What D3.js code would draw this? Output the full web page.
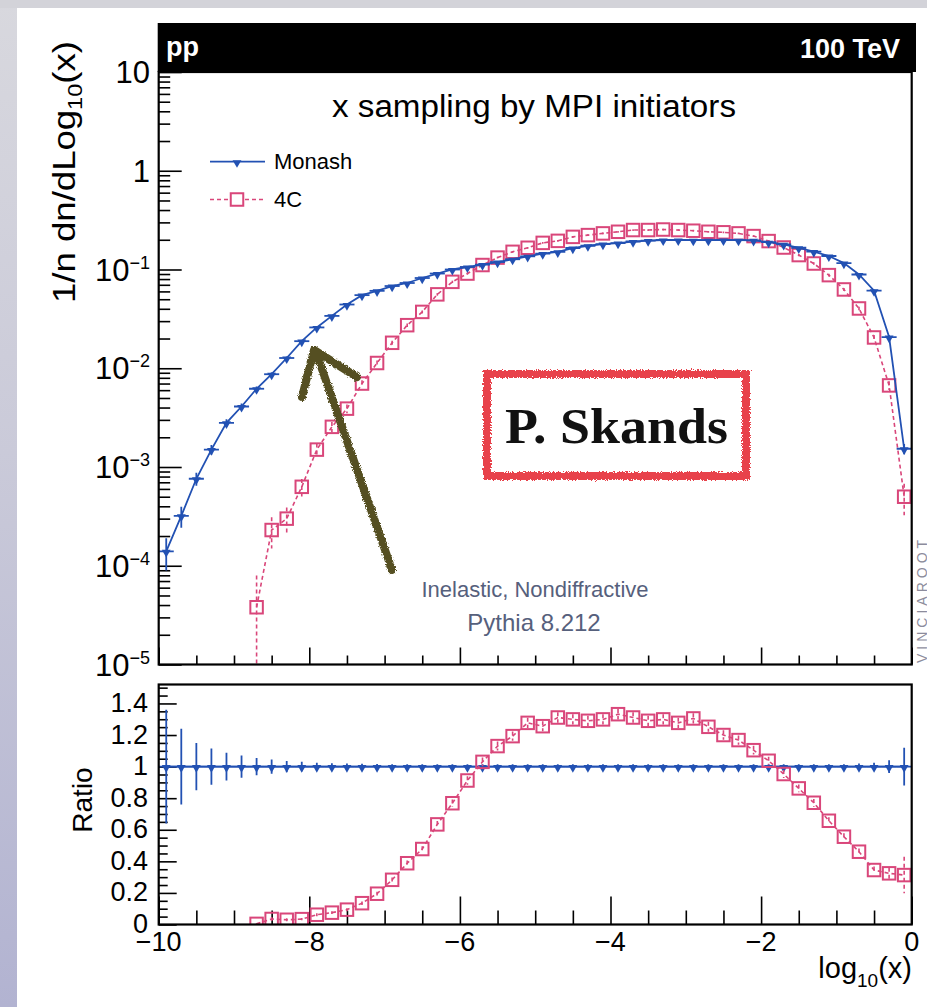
<!DOCTYPE html>
<html>
<head>
<meta charset="utf-8">
<script src="https://cdn.jsdelivr.net/npm/d3@7"></script>
<style>
  html, body { margin: 0; padding: 0; background: #fff; }
  svg { display: block; }
  text { font-family: "Liberation Sans", Arial, Helvetica, sans-serif; }
  text.serif { font-family: "Liberation Serif", "DejaVu Serif", serif; }
</style>
</head>
<body>
<svg id="chart" width="927" height="1007"></svg>
<script>
// ---- data: bin centres in log10(x), bin width 0.2 ----
const logX = [-9.9, -9.7, -9.5, -9.3, -9.1, -8.9, -8.7, -8.5, -8.3, -8.1,
              -7.9, -7.7, -7.5, -7.3, -7.1, -6.9, -6.7, -6.5, -6.3, -6.1,
              -5.9, -5.7, -5.5, -5.3, -5.1, -4.9, -4.7, -4.5, -4.3, -4.1,
              -3.9, -3.7, -3.5, -3.3, -3.1, -2.9, -2.7, -2.5, -2.3, -2.1,
              -1.9, -1.7, -1.5, -1.3, -1.1, -0.9, -0.7, -0.5, -0.3, -0.1];

// Monash tune: 1/n dn/dlog10(x)
const monash = [1.4e-4, 3.2e-4, 7.6e-4, 1.5e-3, 2.8e-3, 4.1e-3, 6.2e-3, 8.7e-3, 1.27e-2, 1.88e-2,
                2.59e-2, 3.39e-2, 4.42e-2, 5.5e-2, 6.08e-2, 6.8e-2, 7.3e-2, 8.2e-2, 9.1e-2, 0.100,
                0.106, 0.112, 0.119, 0.127, 0.136, 0.145, 0.151, 0.165, 0.174, 0.181,
                0.185, 0.192, 0.196, 0.199, 0.199, 0.198, 0.198, 0.199, 0.198, 0.197,
                0.189, 0.180, 0.166, 0.152, 0.137, 0.116, 0.089, 0.061, 0.0207, 1.53e-3];
// relative statistical uncertainty of Monash
const monashRelErr = [0.36, 0.24, 0.15, 0.115, 0.088, 0.07, 0.055, 0.045, 0.035, 0.03,
                      0.025, 0.022, 0.02, 0.018, 0.016, 0.015, 0.015, 0.015, 0.015, 0.015,
                      0.015, 0.015, 0.015, 0.015, 0.015, 0.015, 0.015, 0.015, 0.015, 0.015,
                      0.015, 0.015, 0.015, 0.015, 0.015, 0.015, 0.015, 0.015, 0.015, 0.015,
                      0.015, 0.015, 0.015, 0.015, 0.015, 0.015, 0.02, 0.025, 0.04, 0.12];

// 4C tune (no entries below log10(x) = -8.8)
const logX4C = [-8.7, -8.5, -8.3, -8.1, -7.9, -7.7, -7.5, -7.3, -7.1, -6.9,
                -6.7, -6.5, -6.3, -6.1, -5.9, -5.7, -5.5, -5.3, -5.1, -4.9,
                -4.7, -4.5, -4.3, -4.1, -3.9, -3.7, -3.5, -3.3, -3.1, -2.9,
                -2.7, -2.5, -2.3, -2.1, -1.9, -1.7, -1.5, -1.3, -1.1, -0.9,
                -0.7, -0.5, -0.3, -0.1];
const tune4C = [3.8e-5, 2.3e-4, 3.0e-4, 6.3e-4, 1.5e-3, 2.55e-3, 3.9e-3, 7.0e-3, 1.13e-2, 1.81e-2,
                2.73e-2, 3.72e-2, 5.6e-2, 7.5e-2, 9.1e-2, 0.111, 0.132, 0.151, 0.166, 0.186,
                0.195, 0.214, 0.223, 0.232, 0.241, 0.251, 0.251, 0.254, 0.251, 0.247,
                0.241, 0.238, 0.232, 0.218, 0.194, 0.167, 0.140, 0.115, 0.0877, 0.0628,
                0.0403, 0.0205, 6.7e-3, 5.0e-4];
const tune4CRelErr = [1.1, 0.35, 0.3, 0.2, 0.15, 0.12, 0.1, 0.08, 0.06, 0.05,
                      0.04, 0.035, 0.03, 0.028, 0.025, 0.022, 0.02, 0.02, 0.02, 0.02,
                      0.02, 0.02, 0.02, 0.02, 0.02, 0.02, 0.02, 0.02, 0.02, 0.02,
                      0.02, 0.02, 0.02, 0.02, 0.02, 0.022, 0.025, 0.028, 0.03, 0.035,
                      0.04, 0.06, 0.1, 0.35];
// ratio 4C / Monash
const ratio4C = [0.004, 0.035, 0.03, 0.034, 0.062, 0.075, 0.094, 0.135, 0.195, 0.283,
                 0.388, 0.478, 0.634, 0.768, 0.912, 1.03, 1.13, 1.193, 1.277, 1.256,
                 1.311, 1.299, 1.29, 1.299, 1.332, 1.311, 1.29, 1.299, 1.277, 1.305,
                 1.252, 1.2, 1.168, 1.104, 1.037, 0.953, 0.862, 0.771, 0.657, 0.556,
                 0.461, 0.345, 0.324, 0.313];

// ---- axis ticks and labels ----
const xTickValues = [-10, -8, -6, -4, -2, 0];
const xTickLabels = ["\u221210", "\u22128", "\u22126", "\u22124", "\u22122", "0"];
const yTopTickValues = [1e-5, 1e-4, 1e-3, 1e-2, 1e-1, 1, 10];
const yTopTickBase = ["10", "10", "10", "10", "10", "1", "10"];
const yTopTickExp  = ["\u22125", "\u22124", "\u22123", "\u22122", "\u22121", "", ""];
const yRatioTickValues = [0, 0.2, 0.4, 0.6, 0.8, 1, 1.2, 1.4];
const yRatioTickLabels = ["0", "0.2", "0.4", "0.6", "0.8", "1", "1.2", "1.4"];

const seriesNames = ["Monash", "4C"];
const blue = "#2251b3";
const pink = "#d9467a";
const binHalf = 0.1;

// ---- layout ----
const W = 927, H = 1007;
const L = 158.7, R = 911.7;
const topY0 = 72, topY1 = 664.5;
const ratY0 = 684.5, ratY1 = 924.5;

const x = d3.scaleLinear().domain([-10, 0]).range([L, R]);
const yTop = d3.scaleLog().domain([1e-5, 10]).range([topY1, topY0]);
const yRat = d3.scaleLinear().domain([0, 1.52]).range([ratY1, ratY0]);

const svg = d3.select("#chart");
const defs = svg.append("defs");

// page background
const edge = defs.append("linearGradient").attr("id", "edge")
  .attr("x1", 0).attr("y1", 0).attr("x2", 0).attr("y2", 1);
edge.append("stop").attr("offset", "0%").attr("stop-color", "#d8d8de");
edge.append("stop").attr("offset", "45%").attr("stop-color", "#cacad9");
edge.append("stop").attr("offset", "100%").attr("stop-color", "#b2b3d1");
svg.append("rect").attr("width", W).attr("height", H).attr("fill", "url(#edge)");
svg.append("rect").attr("width", W).attr("height", 8).attr("fill", "#d3d3d9");
svg.append("rect").attr("x", 17).attr("y", 8).attr("width", W - 17).attr("height", H - 8).attr("fill", "#fff");

// rough marker-pen look for the hand-drawn annotations
function roughFilter(id, freq, scale, seed) {
  const f = defs.append("filter").attr("id", id)
    .attr("x", "-10%").attr("y", "-10%").attr("width", "120%").attr("height", "120%");
  f.append("feTurbulence").attr("type", "fractalNoise").attr("baseFrequency", freq)
    .attr("numOctaves", 2).attr("seed", seed).attr("result", "noise");
  f.append("feDisplacementMap").attr("in", "SourceGraphic").attr("in2", "noise")
    .attr("scale", scale).attr("xChannelSelector", "R").attr("yChannelSelector", "G");
}
roughFilter("roughArrow", 0.9, 4, 4);
roughFilter("roughBox", 1.2, 5, 7);

defs.append("clipPath").attr("id", "clipTop").append("rect")
  .attr("x", L).attr("y", topY0).attr("width", R - L).attr("height", topY1 - topY0);
defs.append("clipPath").attr("id", "clipRat").append("rect")
  .attr("x", L).attr("y", ratY0).attr("width", R - L).attr("height", ratY1 - ratY0);

// ---- tick marks (inward) ----
function styleTicks(g) {
  g.select(".domain").remove();
  g.selectAll(".tick line").attr("stroke", "#000").attr("stroke-width", 1.6);
  g.selectAll(".tick text").remove();
}
const decades = [-5, -4, -3, -2, -1, 0];
const yTopMinor = [];
decades.forEach(d => d3.range(2, 10).forEach(k => yTopMinor.push(k * Math.pow(10, d))));
const xMinor = d3.range(-10, 0.001, 0.5).filter(v => Math.abs(v % 2) > 1e-6);
const yRatMinor = d3.range(0, 1.52, 0.05).filter(v => Math.abs(v / 0.2 - Math.round(v / 0.2)) > 1e-6);

svg.append("g").attr("transform", `translate(${L},0)`)
  .call(d3.axisLeft(yTop).tickValues(yTopTickValues).tickSize(-23).tickFormat("")).call(styleTicks);
svg.append("g").attr("transform", `translate(${L},0)`)
  .call(d3.axisLeft(yTop).tickValues(yTopMinor).tickSize(-11.5).tickFormat("")).call(styleTicks);
svg.append("g").attr("transform", `translate(0,${topY1})`)
  .call(d3.axisBottom(x).tickValues(xTickValues).tickSize(-17).tickFormat("")).call(styleTicks);
svg.append("g").attr("transform", `translate(0,${topY1})`)
  .call(d3.axisBottom(x).tickValues(xMinor).tickSize(-9).tickFormat("")).call(styleTicks);

svg.append("g").attr("transform", `translate(${L},0)`)
  .call(d3.axisLeft(yRat).tickValues(yRatioTickValues).tickSize(-18).tickFormat("")).call(styleTicks);
svg.append("g").attr("transform", `translate(${L},0)`)
  .call(d3.axisLeft(yRat).tickValues(yRatMinor).tickSize(-9).tickFormat("")).call(styleTicks);
svg.append("g").attr("transform", `translate(0,${ratY1})`)
  .call(d3.axisBottom(x).tickValues(xTickValues).tickSize(-28).tickFormat("")).call(styleTicks);
svg.append("g").attr("transform", `translate(0,${ratY1})`)
  .call(d3.axisBottom(x).tickValues(xMinor).tickSize(-14).tickFormat("")).call(styleTicks);

// ---- tick labels ----
const topLab = svg.append("g").attr("font-size", 31).attr("fill", "#000");
yTopTickValues.forEach((v, i) => {
  const t = topLab.append("text").attr("x", 150).attr("y", yTop(v) + 11).attr("text-anchor", "end");
  t.append("tspan").text(yTopTickBase[i]);
  if (yTopTickExp[i]) t.append("tspan").attr("dy", -12).attr("font-size", 18).text(yTopTickExp[i]);
});
const ratLab = svg.append("g").attr("font-size", 27).attr("fill", "#000");
yRatioTickValues.forEach((v, i) => {
  ratLab.append("text").attr("x", 148).attr("y", yRat(v) + 8.5).attr("text-anchor", "end").text(yRatioTickLabels[i]);
});
xTickValues.forEach((v, i) => {
  ratLab.append("text").attr("x", x(v)).attr("y", 951).attr("text-anchor", "middle").text(xTickLabels[i]);
});

// ---- axis titles ----
const yTitle = svg.append("text").attr("font-size", 31)
  .attr("transform", "translate(75,172) rotate(-90)").attr("text-anchor", "middle")
  .attr("textLength", 262).attr("lengthAdjust", "spacingAndGlyphs");
yTitle.append("tspan").text("1/n dn/dLog");
yTitle.append("tspan").attr("font-size", 20).attr("dy", 7).text("10");
yTitle.append("tspan").attr("dy", -7).text("(x)");

svg.append("text").attr("font-size", 28)
  .attr("transform", "translate(92,800) rotate(-90)").attr("text-anchor", "middle").text("Ratio");

const xTitle = svg.append("text").attr("font-size", 29).attr("x", 912).attr("y", 978).attr("text-anchor", "end");
xTitle.append("tspan").text("log");
xTitle.append("tspan").attr("font-size", 19).attr("dy", 9).text("10");
xTitle.append("tspan").attr("dy", -9).text("(x)");

// ---- header band ----
svg.append("rect").attr("x", L - 1).attr("y", 23).attr("width", 916 - L + 1).attr("height", topY0 - 23).attr("fill", "#000");
svg.append("text").attr("x", 166).attr("y", 56).attr("font-size", 27).attr("font-weight", "bold")
  .attr("fill", "#fff").text("pp");
svg.append("text").attr("x", 900).attr("y", 58).attr("font-size", 27).attr("font-weight", "bold")
  .attr("fill", "#fff").attr("text-anchor", "end").text("100 TeV");

// ---- top panel texts ----
svg.append("text").attr("x", 534).attr("y", 117).attr("font-size", 31).attr("text-anchor", "middle")
  .attr("textLength", 404).attr("lengthAdjust", "spacingAndGlyphs")
  .text("x sampling by MPI initiators");
svg.append("text").attr("x", 535).attr("y", 597).attr("font-size", 22).attr("text-anchor", "middle")
  .attr("fill", "#56607c").text("Inelastic, Nondiffractive");
svg.append("text").attr("x", 534).attr("y", 631).attr("font-size", 24).attr("text-anchor", "middle")
  .attr("fill", "#56607c").text("Pythia 8.212");
svg.append("text").attr("transform", "translate(927,663) rotate(-90)").attr("font-size", 14)
  .attr("letter-spacing", 4).attr("fill", "#8c8c9c").text("VINCIAROOT");

// ---- series helpers ----
const triDown = d3.symbol().type(d3.symbolTriangle).size(34);
const sq = 12.5;

function drawMonash(layer, yScale, vals, errs, clipBottom) {
  const pts = logX.map((lx, i) => ({ lx, v: vals[i], e: errs[i] }));
  layer.append("path").datum(pts)
    .attr("d", d3.line().x(d => x(d.lx)).y(d => yScale(d.v)))
    .attr("fill", "none").attr("stroke", blue).attr("stroke-width", 1.8);
  const g = layer.append("g").attr("stroke", blue).attr("stroke-width", 1.8);
  g.selectAll("line.h").data(pts).join("line").attr("class", "h")
    .attr("x1", d => x(d.lx - binHalf)).attr("x2", d => x(d.lx + binHalf))
    .attr("y1", d => yScale(d.v)).attr("y2", d => yScale(d.v));
  g.selectAll("line.v").data(pts).join("line").attr("class", "v")
    .attr("x1", d => x(d.lx)).attr("x2", d => x(d.lx))
    .attr("y1", d => yScale(d.v * (1 + d.e)))
    .attr("y2", d => d.v * (1 - d.e) > 0 ? yScale(d.v * (1 - d.e)) : clipBottom + 5);
  layer.selectAll("path.mk").data(pts).join("path").attr("class", "mk")
    .attr("d", triDown).attr("fill", blue)
    .attr("transform", d => `translate(${x(d.lx)},${yScale(d.v) + 1}) rotate(180)`);
}

function draw4C(layer, yScale, vals, errs, clipBottom) {
  const pts = logX4C.map((lx, i) => ({ lx, v: vals[i], e: errs[i] }));
  layer.append("path").datum(pts)
    .attr("d", d3.line().x(d => x(d.lx)).y(d => yScale(d.v)))
    .attr("fill", "none").attr("stroke", pink).attr("stroke-width", 1.6).attr("stroke-dasharray", "4,3");
  layer.append("g").attr("stroke", pink).attr("stroke-width", 1.6).attr("stroke-dasharray", "4,3")
    .selectAll("line").data(pts).join("line")
    .attr("x1", d => x(d.lx)).attr("x2", d => x(d.lx))
    .attr("y1", d => yScale(d.v * (1 + d.e)))
    .attr("y2", d => d.v * (1 - d.e) > 0 ? yScale(d.v * (1 - d.e)) : clipBottom + 5);
  layer.selectAll("rect.mk").data(pts).join("rect").attr("class", "mk")
    .attr("x", d => x(d.lx) - sq / 2).attr("y", d => yScale(d.v) - sq / 2)
    .attr("width", sq).attr("height", sq)
    .attr("fill", "none").attr("stroke", pink).attr("stroke-width", 2);
}

// ---- top panel ----
const topLayer = svg.append("g").attr("clip-path", "url(#clipTop)");
draw4C(topLayer, yTop, tune4C, tune4CRelErr, topY1);
drawMonash(topLayer, yTop, monash, monashRelErr, topY1);

// ---- ratio panel ----
const ratLayer = svg.append("g").attr("clip-path", "url(#clipRat)");
const monashRatio = logX.map(() => 1);
drawMonash(ratLayer, yRat, monashRatio, monashRelErr, ratY1);
const ratioErr = logX4C.map((lx, i) => {
  const j = logX.indexOf(lx);
  return Math.hypot(tune4CRelErr[i], monashRelErr[j]);
});
draw4C(ratLayer, yRat, ratio4C, ratioErr, ratY1);

// ---- frames ----
svg.append("rect").attr("x", L).attr("y", topY0).attr("width", R - L).attr("height", topY1 - topY0)
  .attr("fill", "none").attr("stroke", "#000").attr("stroke-width", 2.2);
svg.append("rect").attr("x", L).attr("y", ratY0).attr("width", R - L).attr("height", ratY1 - ratY0)
  .attr("fill", "none").attr("stroke", "#000").attr("stroke-width", 2.2);

// ---- legend ----
const leg = svg.append("g");
const legRows = [{ y: 161.7, name: seriesNames[0] }, { y: 199.5, name: seriesNames[1] }];
leg.append("line").attr("x1", 210).attr("x2", 265).attr("y1", legRows[0].y).attr("y2", legRows[0].y)
  .attr("stroke", blue).attr("stroke-width", 1.8);
leg.append("path").attr("d", triDown).attr("fill", blue)
  .attr("transform", `translate(237,${legRows[0].y + 1}) rotate(180)`);
leg.append("line").attr("x1", 210).attr("x2", 265).attr("y1", legRows[1].y).attr("y2", legRows[1].y)
  .attr("stroke", pink).attr("stroke-width", 1.6).attr("stroke-dasharray", "4,3");
leg.append("rect").attr("x", 237 - sq / 2).attr("y", legRows[1].y - sq / 2).attr("width", sq).attr("height", sq)
  .attr("fill", "#fff").attr("stroke", pink).attr("stroke-width", 2);
legRows.forEach(r => leg.append("text").attr("x", 274).attr("y", r.y + 7).attr("font-size", 22).text(r.name));

// ---- hand-drawn annotations ----
const arrow = svg.append("g").attr("filter", "url(#roughArrow)");
arrow.append("path").attr("d", "M392,570 L316,352")
  .attr("fill", "none").attr("stroke", "#555021").attr("stroke-width", 8).attr("stroke-linecap", "round");
arrow.append("path").attr("d", "M302,397 L314,350 L357,377")
  .attr("fill", "none").attr("stroke", "#555021").attr("stroke-width", 8)
  .attr("stroke-linecap", "round").attr("stroke-linejoin", "round");
svg.append("g").attr("filter", "url(#roughBox)")
  .append("rect").attr("x", 487).attr("y", 374).attr("width", 259).attr("height", 102)
  .attr("fill", "none").attr("stroke", "#e8434c").attr("stroke-width", 8);
svg.append("text").attr("class", "serif").attr("x", 505).attr("y", 443)
  .attr("font-weight", "bold").attr("font-size", 50).attr("textLength", 223).attr("lengthAdjust", "spacingAndGlyphs")
  .attr("fill", "#111").text("P. Skands");
</script>
</body>
</html>
